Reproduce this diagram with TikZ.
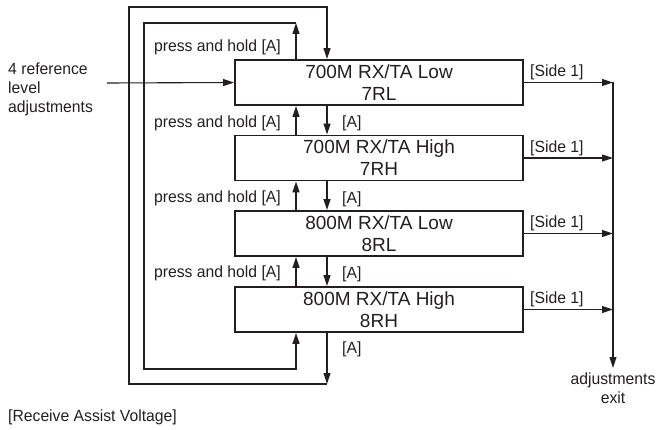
\documentclass[tikz,border=0pt]{standalone}
\usepackage{fontspec}
\setmainfont{Liberation Sans}
\newfontfamily\lblfont[FakeStretch=0.97]{Liberation Sans}
\usetikzlibrary{arrows.meta}
\definecolor{ink}{HTML}{231F20}
\begin{document}
\begin{tikzpicture}[x=1pt,y=-1pt,
  every node/.style={text=ink},
  stbox/.style={draw=ink,line width=1.9pt,minimum width=288pt,minimum height=45pt,inner sep=0pt,
    align=center,font=\fontsize{19}{22}\selectfont},
  lbl/.style={inner sep=0pt,font=\lblfont\fontsize{16.2}{19}\selectfont},
  line/.style={draw=ink,line width=1.1pt},
  arr/.style={line,-{Triangle[length=11pt,width=7pt]}}]
\useasboundingbox (0,0) rectangle (656,430);
% boxes
\node[stbox] (b1) at (379,82.5) {700M RX/TA Low\\7RL};
\node[stbox] (b2) at (379,158) {700M RX/TA High\\7RH};
\node[stbox] (b3) at (379,233.5) {800M RX/TA Low\\8RL};
\node[stbox] (b4) at (379,309.5) {800M RX/TA High\\8RH};
% helper coordinates
\coordinate (ux) at (296,0);
\coordinate (dx) at (327,0);
\coordinate (ex) at (613,0);
\coordinate (o1) at (327,384);
\coordinate (o2) at (129,384);
\coordinate (o3) at (129,7);
\coordinate (o4) at (327,7);
\coordinate (i1) at (296,23);
\coordinate (i2) at (144,23);
\coordinate (i3) at (144,369);
\coordinate (i4) at (296,369);
\coordinate (inp) at (107,83);
\coordinate (exend) at (613,368);
% between boxes
\draw[arr] (b2.north -| ux) -- (b1.south -| ux);
\draw[arr] (b3.north -| ux) -- (b2.south -| ux);
\draw[arr] (b4.north -| ux) -- (b3.south -| ux);
\draw[arr] (b1.south -| dx) -- (b2.north -| dx);
\draw[arr] (b2.south -| dx) -- (b3.north -| dx);
\draw[arr] (b3.south -| dx) -- (b4.north -| dx);
% outer loop
\draw[arr] (b4.south -| dx) -- (o1);
\draw[arr] (o1) -- (o2) -- (o3) -- (o4) -- (b1.north -| dx);
% inner loop
\draw[arr] (b1.north -| ux) -- (i1);
\draw[arr] (i1) -- (i2) -- (i3) -- (i4) -- (b4.south -| ux);
% input
\draw[arr] (inp) -- (b1.west);
% exits
\draw[arr] (b1.east) -- (b1.east -| ex);
\draw[arr] (b2.east) -- (b2.east -| ex);
\draw[arr] (b3.east) -- (b3.east -| ex);
\draw[arr] (b4.east) -- (b4.east -| ex);
\draw[arr] (b1.east -| ex) -- (exend);
% labels
\node[lbl,anchor=east] (p1) at (281,47) {press and hold [A]};
\node[lbl,anchor=east] (p2) at (281,123) {press and hold [A]};
\node[lbl,anchor=east] (p3) at (281,198) {press and hold [A]};
\node[lbl,anchor=east] (p4) at (281,273) {press and hold [A]};
\node[lbl,anchor=west] (a1) at (342,123) {[A]};
\node[lbl,anchor=west] (a2) at (342,199) {[A]};
\node[lbl,anchor=west] (a3) at (342,274) {[A]};
\node[lbl,anchor=west] (a4) at (342,349) {[A]};
\node[lbl,anchor=west] (s1) at (530,72) {[Side 1]};
\node[lbl,anchor=west] (s2) at (530,148) {[Side 1]};
\node[lbl,anchor=west] (s3) at (530,223) {[Side 1]};
\node[lbl,anchor=west] (s4) at (530,299) {[Side 1]};
\node[lbl,anchor=north west,align=left] (inlbl) at (8,63) {4 reference\\level\\adjustments};
\node[lbl,anchor=north,align=center] (exlbl) at (613,373) {adjustments\\exit};
\node[lbl,anchor=west] (title) at (8,417) {[Receive Assist Voltage]};
\end{tikzpicture}
\end{document}
